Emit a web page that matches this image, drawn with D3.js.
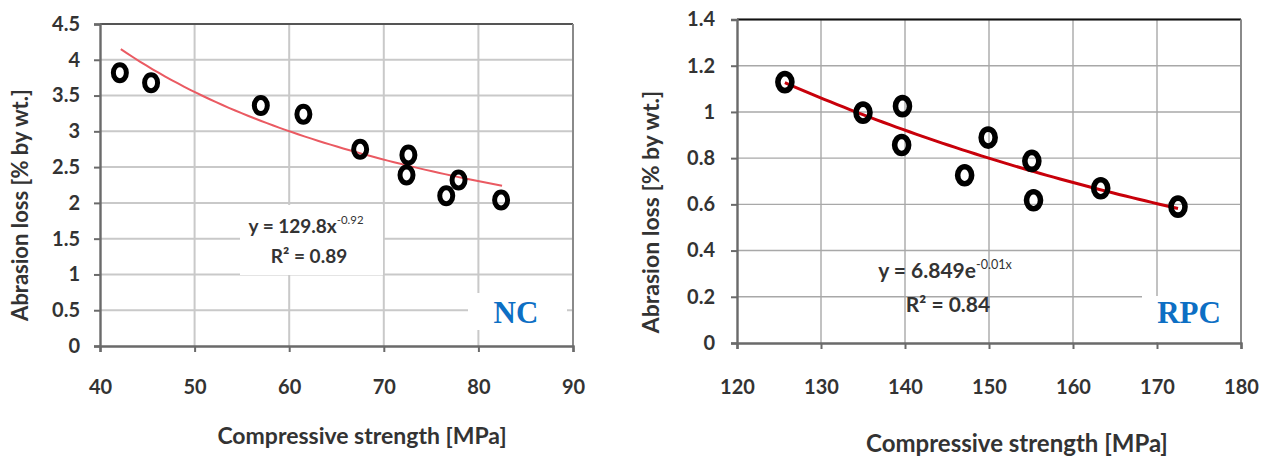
<!DOCTYPE html>
<html><head><meta charset="utf-8">
<script src="https://cdn.jsdelivr.net/npm/d3@7/dist/d3.min.js"></script>
<style>
html,body{margin:0;padding:0;background:#fff;}
svg{display:block;}
text{font-family:Lato,"Open Sans",sans-serif;fill:#333;}
</style></head>
<body>
<svg id="c" width="1270" height="463"></svg>
<script>
// ---------- NC data ----------
const ncStrength = [42.1, 45.4, 57.0, 61.5, 67.5, 72.6, 72.4, 76.6, 77.9, 82.4];
const ncLoss     = [3.82, 3.68, 3.36, 3.24, 2.75, 2.67, 2.39, 2.10, 2.32, 2.04];
const ncXTicks = [40, 50, 60, 70, 80, 90];
const ncYTicks = [0, 0.5, 1, 1.5, 2, 2.5, 3, 3.5, 4, 4.5];
const ncFit = {a: 129.8, b: -0.92, from: 42.2, to: 82.5};   // power fit y = a x^b
const ncEq = ["y = 129.8x", "-0.92", "R² = 0.89"];

// ---------- RPC data ----------
const rpcStrength = [125.7, 135.0, 139.7, 139.6, 147.1, 149.9, 155.1, 155.3, 163.3, 172.5];
const rpcLoss     = [1.129, 0.997, 1.025, 0.857, 0.726, 0.889, 0.788, 0.618, 0.670, 0.590];
const rpcXTicks = [120, 130, 140, 150, 160, 170, 180];
const rpcYTicks = [0, 0.2, 0.4, 0.6, 0.8, 1, 1.2, 1.4];
const rpcFit = {a: 6.63, b: -0.0141, from: 125.7, to: 172.5}; // exponential fit y = a e^(b x)
const rpcEq = ["y = 6.849e", "-0.01x", "R² = 0.84"];

const xTitle = "Compressive strength [MPa]";
const yTitle = "Abrasion loss  [% by wt.]";

const svg = d3.select("#c");

function draw(o){
  const g = svg.append("g");
  const x = d3.scaleLinear().domain(o.xDomain).range([o.left, o.right]);
  const y = d3.scaleLinear().domain(o.yDomain).range([o.bottom, o.top]);

  // gridlines
  g.append("g").selectAll("line.h").data(o.yTicks.slice(1)).join("line")
    .attr("x1", o.left).attr("x2", o.right)
    .attr("y1", d => y(d)).attr("y2", d => y(d))
    .attr("stroke", o.gridColor).attr("stroke-width", o.gridWidth);
  g.append("g").selectAll("line.v").data(o.xTicks.slice(1)).join("line")
    .attr("y1", o.top).attr("y2", o.bottom)
    .attr("x1", d => x(d)).attr("x2", d => x(d))
    .attr("stroke", o.gridColor).attr("stroke-width", o.gridWidth);

  // frame: top & right
  g.append("line").attr("x1", o.left).attr("x2", o.right).attr("y1", o.top).attr("y2", o.top)
    .attr("stroke", o.topColor).attr("stroke-width", 2.2);
  g.append("line").attr("x1", o.right).attr("x2", o.right).attr("y1", o.top).attr("y2", o.bottom)
    .attr("stroke", "#8a8a8a").attr("stroke-width", 2);

  // equation box (optional)
  if (o.eqBox) {
    g.append("rect").attr("x", o.eqBox[0]).attr("y", o.eqBox[1])
      .attr("width", o.eqBox[2]).attr("height", o.eqBox[3]).attr("fill", "#fff");
  }

  // axes
  const ax = g.append("g").attr("transform", `translate(0,${o.bottom})`)
    .call(d3.axisBottom(x).tickValues(o.xTicks).tickSize(6).tickPadding(o.xPad).tickFormat(d3.format("")));
  const ay = g.append("g").attr("transform", `translate(${o.left},0)`)
    .call(d3.axisLeft(y).tickValues(o.yTicks).tickSize(6).tickPadding(o.yPad).tickFormat(d3.format("")));
  [ax, ay].forEach(a => {
    a.select(".domain").attr("stroke", "#6a6a6a").attr("stroke-width", 2.4);
    a.selectAll(".tick line").attr("stroke", "#6a6a6a").attr("stroke-width", 2);
    a.selectAll(".tick text").style("font-size", "20px").style("font-weight", "bold")
      .style("font-family", "Lato,sans-serif").attr("fill", "#3a3a3a");
  });

  // trend line
  const fitPts = d3.range(0, 61).map(i => {
    const xv = o.fit.from + (o.fit.to - o.fit.from) * i / 60;
    return [xv, o.fitFn(xv)];
  });
  g.append("path").datum(fitPts)
    .attr("d", d3.line().x(d => x(d[0])).y(d => y(d[1])))
    .attr("fill", "none").attr("stroke", o.fitColor).attr("stroke-width", o.fitWidth);

  // markers
  g.append("g").selectAll("ellipse").data(o.xs.map((v, i) => [v, o.ys[i]])).join("ellipse")
    .attr("cx", d => x(d[0])).attr("cy", d => y(d[1]))
    .attr("rx", o.mrx).attr("ry", o.mry)
    .attr("fill", "none").attr("stroke", "#000").attr("stroke-width", o.msw);

  // equation text
  const t1 = g.append("text").attr("x", o.eqPos[0]).attr("y", o.eqPos[1])
    .style("font-size", o.eqSize + "px").style("font-weight", "bold").attr("text-anchor", "middle");
  t1.append("tspan").text(o.eq[0]);
  t1.append("tspan").attr("dy", -9).style("font-size", (o.eqSize * 0.6) + "px").style("font-weight", "normal").text(o.eq[1]);
  g.append("text").attr("x", o.eqPos[2]).attr("y", o.eqPos[3]).style("font-weight", "bold")
    .style("font-size", o.eqSize + "px").attr("text-anchor", "middle").text(o.eq[2]);

  // label box
  g.append("rect").attr("x", o.labBox[0]).attr("y", o.labBox[1])
    .attr("width", o.labBox[2]).attr("height", o.labBox[3]).attr("fill", "#fff");
  g.append("text").attr("x", o.labPos[0]).attr("y", o.labPos[1]).attr("text-anchor", "middle")
    .style("font-family", "'Liberation Serif','DejaVu Serif',serif").style("font-weight", "bold")
    .style("font-size", "31px").style("fill", "#0d6fc4").text(o.label);

  // titles
  g.append("text").attr("x", o.xTitlePos[0]).attr("y", o.xTitlePos[1]).attr("text-anchor", "middle")
    .style("font-size", o.xTitleSize + "px").style("font-weight", "bold").text(xTitle);
  g.append("text").attr("transform", `translate(${o.yTitlePos[0]},${o.yTitlePos[1]}) rotate(-90)`)
    .attr("text-anchor", "middle").style("font-size", o.yTitleSize + "px").style("font-weight", "bold").text(yTitle);
}

draw({
  left: 100, right: 573, top: 24, bottom: 346,
  xDomain: [40, 90], yDomain: [0, 4.5], xTicks: ncXTicks, yTicks: ncYTicks,
  xPad: 28, yPad: 14,
  gridColor: "#c9c9c9", gridWidth: 2, topColor: "#555",
  xs: ncStrength, ys: ncLoss, mrx: 6.5, mry: 8, msw: 5,
  fit: ncFit, fitFn: v => ncFit.a * Math.pow(v, ncFit.b), fitColor: "#ea5a62", fitWidth: 2,
  eq: ncEq, eqPos: [306, 233, 309, 263], eqSize: 19, eqBox: [240, 205, 143, 70],
  label: "NC", labBox: [468, 293, 99, 37], labPos: [516, 323],
  xTitlePos: [362, 444], xTitleSize: 23,
  yTitlePos: [28, 205], yTitleSize: 22
});

draw({
  left: 737, right: 1241, top: 19.5, bottom: 343,
  xDomain: [120, 180], yDomain: [0, 1.4], xTicks: rpcXTicks, yTicks: rpcYTicks,
  xPad: 31, yPad: 16,
  gridColor: "#a8a8a8", gridWidth: 1.4, topColor: "#111",
  xs: rpcStrength, ys: rpcLoss, mrx: 7, mry: 8.5, msw: 5.6,
  fit: rpcFit, fitFn: v => rpcFit.a * Math.exp(rpcFit.b * v), fitColor: "#c8000a", fitWidth: 3,
  eq: rpcEq, eqPos: [945, 278, 948, 312], eqSize: 21, eqBox: null,
  label: "RPC", labBox: [1142, 296, 98, 46], labPos: [1189, 323],
  xTitlePos: [1017, 452], xTitleSize: 24,
  yTitlePos: [659, 212], yTitleSize: 23
});
</script>
</body></html>
